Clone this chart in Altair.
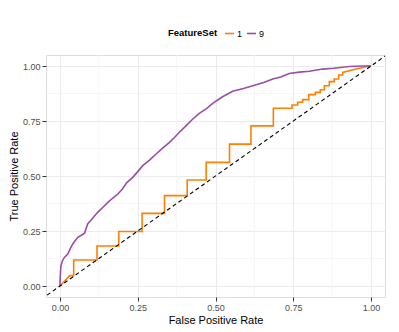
import altair as alt
import pandas as pd

# ---- data ----
feature_sets = ["1", "9"]
series_colors = ["#FF7F00", "#984EA3"]

orange_fpr = [0, 0.010, 0.020, 0.031, 0.044, 0.044, 0.119, 0.119, 0.189, 0.189,
              0.264, 0.264, 0.336, 0.336, 0.409, 0.409, 0.470, 0.470, 0.545, 0.545,
              0.614, 0.614, 0.686, 0.686, 0.746, 0.746, 0.764, 0.764, 0.780, 0.780,
              0.800, 0.800, 0.821, 0.821, 0.837, 0.837, 0.850, 0.850, 0.866, 0.866,
              0.882, 0.882, 0.896, 0.896, 0.909, 0.909, 0.952, 0.995, 1.0]
orange_tpr = [0, 0.015, 0.030, 0.047, 0.047, 0.118, 0.118, 0.182, 0.182, 0.248,
              0.248, 0.330, 0.330, 0.411, 0.411, 0.482, 0.482, 0.562, 0.562, 0.645,
              0.645, 0.728, 0.728, 0.808, 0.808, 0.823, 0.823, 0.835, 0.835, 0.847,
              0.847, 0.870, 0.870, 0.880, 0.880, 0.892, 0.892, 0.910, 0.910, 0.929,
              0.929, 0.941, 0.941, 0.959, 0.959, 0.971, 0.986, 1.0, 1.0]

purple_fpr = [0, 0.001, 0.003, 0.008, 0.014, 0.025, 0.033, 0.041, 0.057, 0.070,
              0.079, 0.089, 0.105, 0.121, 0.138, 0.154, 0.170, 0.186, 0.200, 0.215,
              0.234, 0.250, 0.266, 0.288, 0.309, 0.330, 0.352, 0.368, 0.384, 0.405,
              0.427, 0.448, 0.470, 0.491, 0.520, 0.555, 0.590, 0.620, 0.655, 0.684,
              0.710, 0.737, 0.770, 0.802, 0.844, 0.880, 0.930, 0.970, 1.0]
purple_tpr = [0, 0.050, 0.092, 0.115, 0.130, 0.145, 0.170, 0.191, 0.221, 0.232,
              0.240, 0.282, 0.308, 0.335, 0.358, 0.380, 0.400, 0.418, 0.440, 0.470,
              0.494, 0.520, 0.547, 0.572, 0.600, 0.627, 0.653, 0.675, 0.699, 0.728,
              0.759, 0.785, 0.805, 0.830, 0.858, 0.885, 0.898, 0.910, 0.925, 0.941,
              0.950, 0.966, 0.972, 0.976, 0.986, 0.990, 0.998, 1.0, 1.0]

tick_values = [0, 0.25, 0.5, 0.75, 1.0]
minor_values = [0.125, 0.375, 0.625, 0.875]
diag_values = [-0.06, 1.06]

# ---- build tables ----
rows = []
for i, (x, y) in enumerate(zip(orange_fpr, orange_tpr)):
    rows.append({"FeatureSet": "1", "fpr": x, "tpr": y, "idx": i})
for i, (x, y) in enumerate(zip(purple_fpr, purple_tpr)):
    rows.append({"FeatureSet": "9", "fpr": x, "tpr": y, "idx": i})
df = pd.DataFrame(rows)
diag = pd.DataFrame({"fpr": diag_values, "tpr": diag_values})
minor = pd.DataFrame({"v": minor_values})

xscale = alt.Scale(domain=[-0.045, 1.045], nice=False, zero=False)
yscale = alt.Scale(domain=[-0.05, 1.05], nice=False, zero=False)

axis_common = dict(values=tick_values, format=".2f", labelFontSize=9,
                   labelColor="#4D4D4D", tickColor="#333333", tickSize=4,
                   domain=False, grid=True, gridColor="#EBEBEB", gridWidth=1,
                   titleFontSize=11, titleFontWeight="normal", titleColor="#000000",
                   labelPadding=2, labelFont="Liberation Sans", titleFont="Liberation Sans")

xaxis = alt.Axis(title="False Positive Rate", titlePadding=2, **axis_common)
yaxis = alt.Axis(title="True Positive Rate", titlePadding=3, **axis_common)

minor_x = alt.Chart(minor).mark_rule(color="#F4F4F4", strokeWidth=0.8).encode(
    x=alt.X("v:Q", scale=xscale, axis=xaxis))
minor_y = alt.Chart(minor).mark_rule(color="#F4F4F4", strokeWidth=0.8).encode(
    y=alt.Y("v:Q", scale=yscale, axis=yaxis))

lines = alt.Chart(df).mark_line(strokeWidth=1.6, clip=True).encode(
    x=alt.X("fpr:Q", scale=xscale, axis=xaxis),
    y=alt.Y("tpr:Q", scale=yscale, axis=yaxis),
    order=alt.Order("idx:Q"),
    color=alt.Color("FeatureSet:N",
                    scale=alt.Scale(domain=feature_sets, range=series_colors),
                    legend=alt.Legend(title="FeatureSet", orient="none",
                                      legendX=122, legendY=-27,
                                      direction="horizontal", titleOrient="left",
                                      titleFontSize=9.5, titleFontWeight="bold",
                                      titleFont="Liberation Sans",
                                      labelFont="Liberation Sans",
                                      labelFontSize=9, labelColor="#000000",
                                      symbolType="stroke", symbolSize=80,
                                      symbolStrokeWidth=1.6, labelOffset=2,
                                      columnPadding=0, gridAlign="none",
                                      titlePadding=6)),
)

diag_line = alt.Chart(diag).mark_line(color="#000000", strokeDash=[4, 3],
                                      strokeWidth=1.1, clip=True).encode(
    x=alt.X("fpr:Q", scale=xscale, axis=xaxis),
    y=alt.Y("tpr:Q", scale=yscale, axis=yaxis),
)

chart = alt.layer(minor_x, minor_y, lines, diag_line).properties(
    width=339, height=242,
    autosize=alt.AutoSizeParams(type="none"),
    padding={"left": 38, "top": 47, "right": 6, "bottom": 27},
).configure_view(stroke="#7F7F7F", strokeWidth=1).configure(
    font="Liberation Sans", background="#FFFFFF")

chart.save("out.html", embed_options={"renderer": "svg", "actions": False})
